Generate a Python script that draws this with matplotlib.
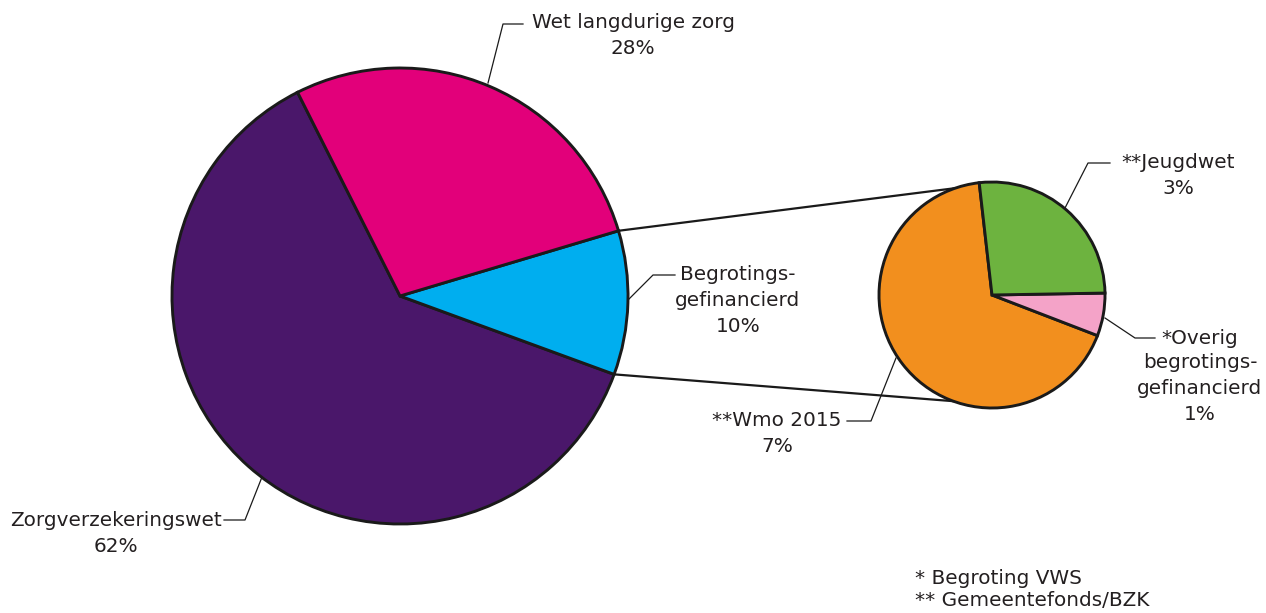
import numpy as np
import matplotlib
matplotlib.use("Agg")
import matplotlib.pyplot as plt

# ---- data ----
main_labels = ["Zorgverzekeringswet", "Begrotings-\ngefinancierd", "Wet langdurige zorg"]
main_pcts = ["62%", "10%", "28%"]
main_values = [62, 10.2, 27.8]
main_colors = ["#4A176A", "#00AEEF", "#E2007A"]

sub_labels = ["**Wmo 2015", "*Overig\nbegrotings-\ngefinancierd", "**Jeugdwet"]
sub_pcts = ["7%", "1%", "3%"]
sub_values = [6.6, 0.6, 2.6]
sub_colors = ["#F28F1E", "#F4A3C8", "#6DB33F"]

footnotes = ["* Begroting VWS", "** Gemeentefonds/BZK"]

W, H = 1266, 613
fig = plt.figure(figsize=(W / 100, H / 100), dpi=100)
ax = fig.add_axes([0, 0, 1, 1])

plt.rcParams["font.family"] = ["DejaVu Sans"]
TXT = "#231F20"
FS = 14.4
EDGE = "#1a1a1a"

def Y(y):
    return H - y

big_c = (400, Y(296)); big_r = 228
small_c = (992, Y(295)); small_r = 113
big_start = 116.7
small_start = 96.5

ax.pie(main_values, colors=main_colors, startangle=big_start, counterclock=True,
       center=big_c, radius=big_r, frame=True,
       wedgeprops=dict(edgecolor=EDGE, linewidth=2.1))
ax.pie(sub_values, colors=sub_colors, startangle=small_start, counterclock=True,
       center=small_c, radius=small_r, frame=True,
       wedgeprops=dict(edgecolor=EDGE, linewidth=2.1))
ax.set_xlim(0, W)
ax.set_ylim(0, H)
ax.set_aspect("equal")
ax.axis("off")

# connector lines from the blue wedge edges to the small pie
tot = sum(main_values)
a_blue_start = big_start + 360 * main_values[0] / tot
a_blue_end = a_blue_start + 360 * main_values[1] / tot

def pt(c, r, a):
    return c[0] + r * np.cos(np.radians(a)), c[1] + r * np.sin(np.radians(a))

p1 = pt(big_c, big_r, a_blue_end); q1 = pt(small_c, small_r, 109)
p2 = pt(big_c, big_r, a_blue_start); q2 = pt(small_c, small_r, -110)
ax.plot([p1[0], q1[0]], [p1[1], q1[1]], color=EDGE, lw=1.6, zorder=0)
ax.plot([p2[0], q2[0]], [p2[1], q2[1]], color=EDGE, lw=1.6, zorder=0)

def leader(pts):
    xs = [p[0] for p in pts]; ys = [Y(p[1]) for p in pts]
    ax.plot(xs, ys, color=EDGE, lw=0.9, zorder=5)

def label(x, ys, lines, ha="center"):
    for yy, s in zip(ys, lines):
        ax.text(x, Y(yy), s, ha=ha, va="center", fontsize=FS, color=TXT)

# Wet langdurige zorg
leader([(488, 83), (503, 24), (523, 24)])
label(633, [23, 49], [main_labels[2], main_pcts[2]])
# Begrotingsgefinancierd
leader([(628, 300), (653, 275), (675, 275)])
label(738, [274, 300, 326], main_labels[1].split("\n") + [main_pcts[1]])
# Zorgverzekeringswet
leader([(262, 477), (245, 520), (224, 520)])
label(116, [520, 547], [main_labels[0], main_pcts[0]])
# Wmo
leader([(896, 358), (871, 421), (847, 421)])
label(777, [421, 447], [sub_labels[0], sub_pcts[0]])
# Jeugdwet
leader([(1065, 208), (1088, 163), (1110, 163)])
label(1178, [162, 188], [sub_labels[2], sub_pcts[2]])
# Overig
leader([(1105, 318), (1135, 338), (1155, 338)])
label(1200, [338, 363, 388, 414], sub_labels[1].split("\n") + [sub_pcts[1]])

# footnotes
ax.text(915, Y(578), footnotes[0], ha="left", va="center", fontsize=FS, color=TXT)
ax.text(915, Y(601), footnotes[1], ha="left", va="center", fontsize=FS, color=TXT)

fig.savefig("out.png", dpi=100)
